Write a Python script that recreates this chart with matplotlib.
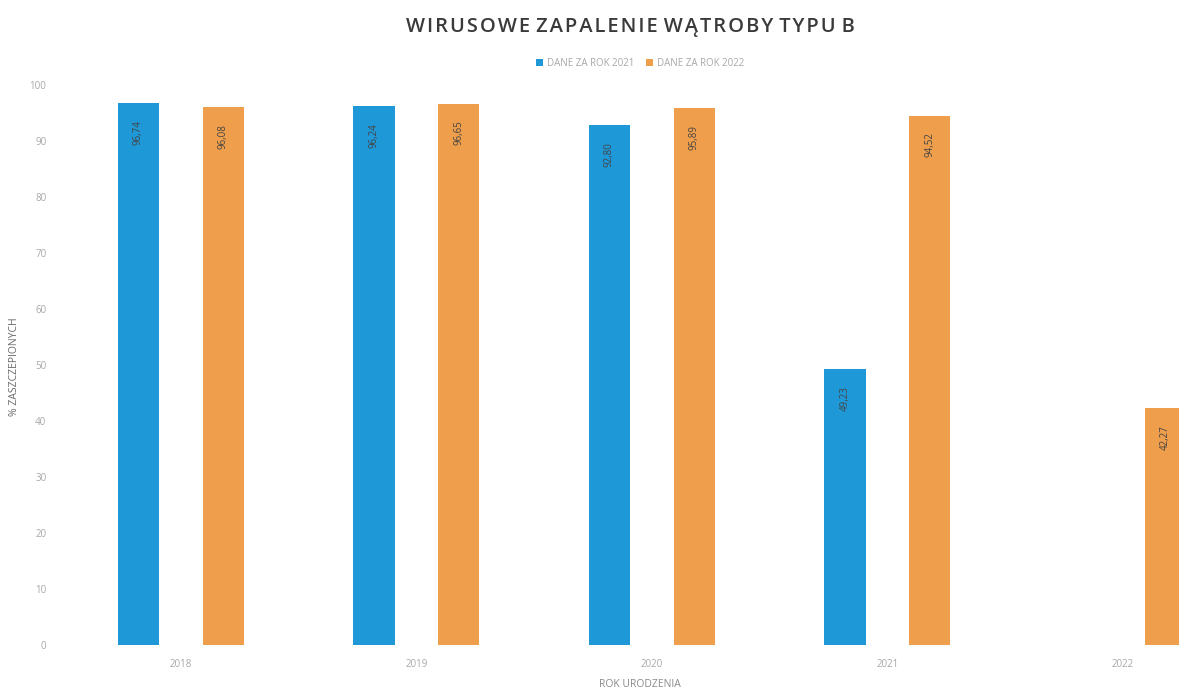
#!/usr/bin/env python3
# -*- coding: utf-8 -*-
"""
Wykres: odsetek zaszczepionych przeciw WZW typu B wg roku urodzenia.
"""

import numpy as np
import matplotlib
matplotlib.use('Agg')
import matplotlib.pyplot as plt

plt.rc('font', family=['Open Sans', 'DejaVu Sans'])

# dane
years = ['2018', '2019', '2020', '2021', '2022']
label_blue = 'DANE ZA ROK 2021'
label_orange = 'DANE ZA ROK 2022'
vals_blue = [96.74, 96.24, 92.80, 49.23, np.nan]
vals_orange = [96.08, 96.65, 95.89, 94.52, 42.27]

BLUE = '#1f98d8'
ORANGE = '#ef9e4c'
TXT = '#a8a8a8'

fig = plt.figure(figsize=(11.79, 6.93), dpi=100)
ax = fig.add_axes([63/1179, 48/693, 1 - 63/1179, 560/693])

x = np.arange(len(years))
off = 0.18
w = 0.175
b1 = ax.bar(x - off, vals_blue, w, color=BLUE, label=label_blue)
b2 = ax.bar(x + off, vals_orange, w, color=ORANGE, label=label_orange)

for bars, vals in ((b1, vals_blue), (b2, vals_orange)):
    for r, v in zip(bars, vals):
        if np.isnan(v):
            continue
        ax.text(r.get_x() + r.get_width()/2, v - 3, f'{v:.2f}'.replace('.', ','),
                rotation=90, ha='center', va='top', fontsize=7, color='#444444')

ax.set_xlim(-0.5, (1179 - 181) / 235.5)
ax.set_ylim(0, 100)
ax.set_yticks(np.arange(0, 101, 10))
ax.set_xticks(x)
ax.set_xticklabels(years)
ax.tick_params(axis='both', length=0, labelsize=7, colors=TXT)
ax.tick_params(axis='y', pad=12)
ax.tick_params(axis='x', pad=10)
for s in ax.spines.values():
    s.set_visible(False)

ax.set_xlabel('ROK URODZENIA', fontsize=7.5, color='#8a8a8a')
ax.set_ylabel('% ZASZCZEPIONYCH', fontsize=7.5, color='#6a6a6a')
ax.xaxis.set_label_coords((640 - 63) / (1179 - 63), -0.06)
ax.yaxis.set_label_coords(-(63 - 20) / (1179 - 63), (645 - 367) / 560)

fig.text(630/1179, 1 - 27/693, 'W I R U S O W E   Z A P A L E N I E   W Ą T R O B Y   T Y P U   B'.replace(' ', '\u200a'),
         ha='center', va='center', fontsize=14.5, fontweight='semibold', color='#3a3a3a')

fig.legend(loc='center', bbox_to_anchor=(640/1179, 1 - 63/693), ncol=2,
           frameon=False, fontsize=7, handlelength=0.7, handleheight=0.7,
           handletextpad=0.4, columnspacing=1.2, labelcolor=TXT)

plt.savefig('out.png', dpi=100)
